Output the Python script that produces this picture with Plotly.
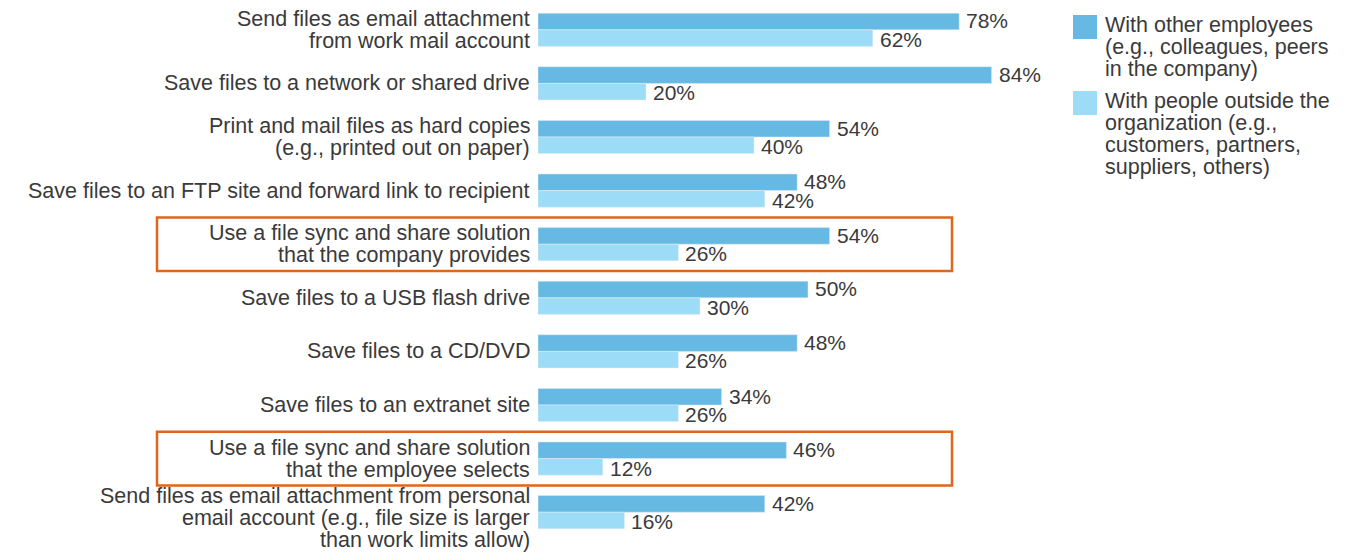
import plotly.graph_objects as go

# ---------------- data ----------------
categories = [
    "Send files as email attachment<br>from work mail account",
    "Save files to a network or shared drive",
    "Print and mail files as hard copies<br>(e.g., printed out on paper)",
    "Save files to an FTP site and forward link to recipient",
    "Use a file sync and share solution<br>that the company provides",
    "Save files to a USB flash drive",
    "Save files to a CD/DVD",
    "Save files to an extranet site",
    "Use a file sync and share solution<br>that the employee selects",
    "Send files as email attachment from personal<br>email account (e.g., file size is larger<br>than work limits allow)",
]
with_employees = [78, 84, 54, 48, 54, 50, 48, 34, 46, 42]
with_outside = [62, 20, 40, 42, 26, 30, 26, 26, 12, 16]
series_names = [
    "With other employees<br>(e.g., colleagues, peers<br>in the company)",
    "With people outside the<br>organization (e.g.,<br>customers, partners,<br>suppliers, others)",
]
highlighted = [4, 8]

# ---------------- style ----------------
W, H = 1351, 554
ML, MR, MT, MB = 538, 273, 3, 15
PW, PH = W - ML - MR, H - MT - MB
FONT = "Liberation Sans, Arial, sans-serif"
FS = 21.5
FS_VAL = 21
TXT = "#3a3a3a"
C_DARK = "#66b9e2"
C_LIGHT = "#9ddcf7"
C_ORANGE = "#e0661c"
LINE = 21.9

def px_x(px):
    return (px - ML) / PW

def px_y(py):
    return (MT + PH - py) / PH

ypos = list(range(len(categories)))

fig = go.Figure()
fig.add_trace(go.Bar(y=ypos, x=with_employees, orientation="h", marker_color=C_DARK,
                     name="employees", showlegend=False, hoverinfo="x"))
fig.add_trace(go.Bar(y=ypos, x=with_outside, orientation="h", marker_color=C_LIGHT,
                     name="outside", showlegend=False, hoverinfo="x"))

annotations = []
# category labels (one annotation per line for tight line spacing)
for i, cat in enumerate(categories):
    lines = cat.split("<br>")
    n = len(lines)
    ref = 0.0 if n == 1 else (0.5 if n == 2 else 0.72)
    for k, ln in enumerate(lines):
        annotations.append(dict(
            x=0, xref="paper", xanchor="right", xshift=-7,
            y=i, yref="y", yanchor="middle", yshift=(ref - k) * LINE,
            text=ln, showarrow=False, borderpad=0,
            font=dict(family=FONT, size=FS, color=TXT)))

# value labels
for vals, ys in ((with_employees, 9.0), (with_outside, -9.5)):
    for i, v in enumerate(vals):
        annotations.append(dict(
            x=v, xref="x", xanchor="left", xshift=6,
            y=i, yref="y", yanchor="middle", yshift=ys,
            text=f"{v}%", showarrow=False, borderpad=0,
            font=dict(family=FONT, size=FS_VAL, color=TXT)))

# legend (custom, large swatches)
shapes = []
legend_tops = [15, 91]
for s, (name, col, top) in enumerate(zip(series_names, [C_DARK, C_LIGHT], legend_tops)):
    shapes.append(dict(type="rect", xref="paper", yref="paper",
                       x0=px_x(1073), x1=px_x(1097), y0=px_y(top), y1=px_y(top + 24),
                       fillcolor=col, line=dict(width=0)))
    for k, ln in enumerate(name.split("<br>")):
        annotations.append(dict(
            x=px_x(1104), xref="paper", xanchor="left",
            y=px_y(top + 10 + k * LINE), yref="paper", yanchor="middle",
            text=ln, showarrow=False, borderpad=0,
            font=dict(family=FONT, size=FS, color=TXT)))

# highlight boxes
for idx in highlighted:
    shapes.append(dict(type="rect", xref="paper", yref="y",
                       x0=px_x(157), x1=px_x(952), y0=idx - 0.5, y1=idx + 0.5,
                       fillcolor="rgba(0,0,0,0)", line=dict(color=C_ORANGE, width=2.5)))

fig.update_layout(
    width=W, height=H,
    margin=dict(l=ML, r=MR, t=MT, b=MB, pad=0),
    paper_bgcolor="white", plot_bgcolor="white",
    barmode="group", bargap=0.38, bargroupgap=0,
    xaxis=dict(range=[0, 100], visible=False, fixedrange=True),
    yaxis=dict(range=[len(categories) - 0.5, -0.5], visible=False, fixedrange=True),
    annotations=annotations, shapes=shapes,
    font=dict(family=FONT, size=FS, color=TXT),
)

fig.write_html("out.html", config={"displayModeBar": False},
               post_script="document.body.style.margin='0';")
